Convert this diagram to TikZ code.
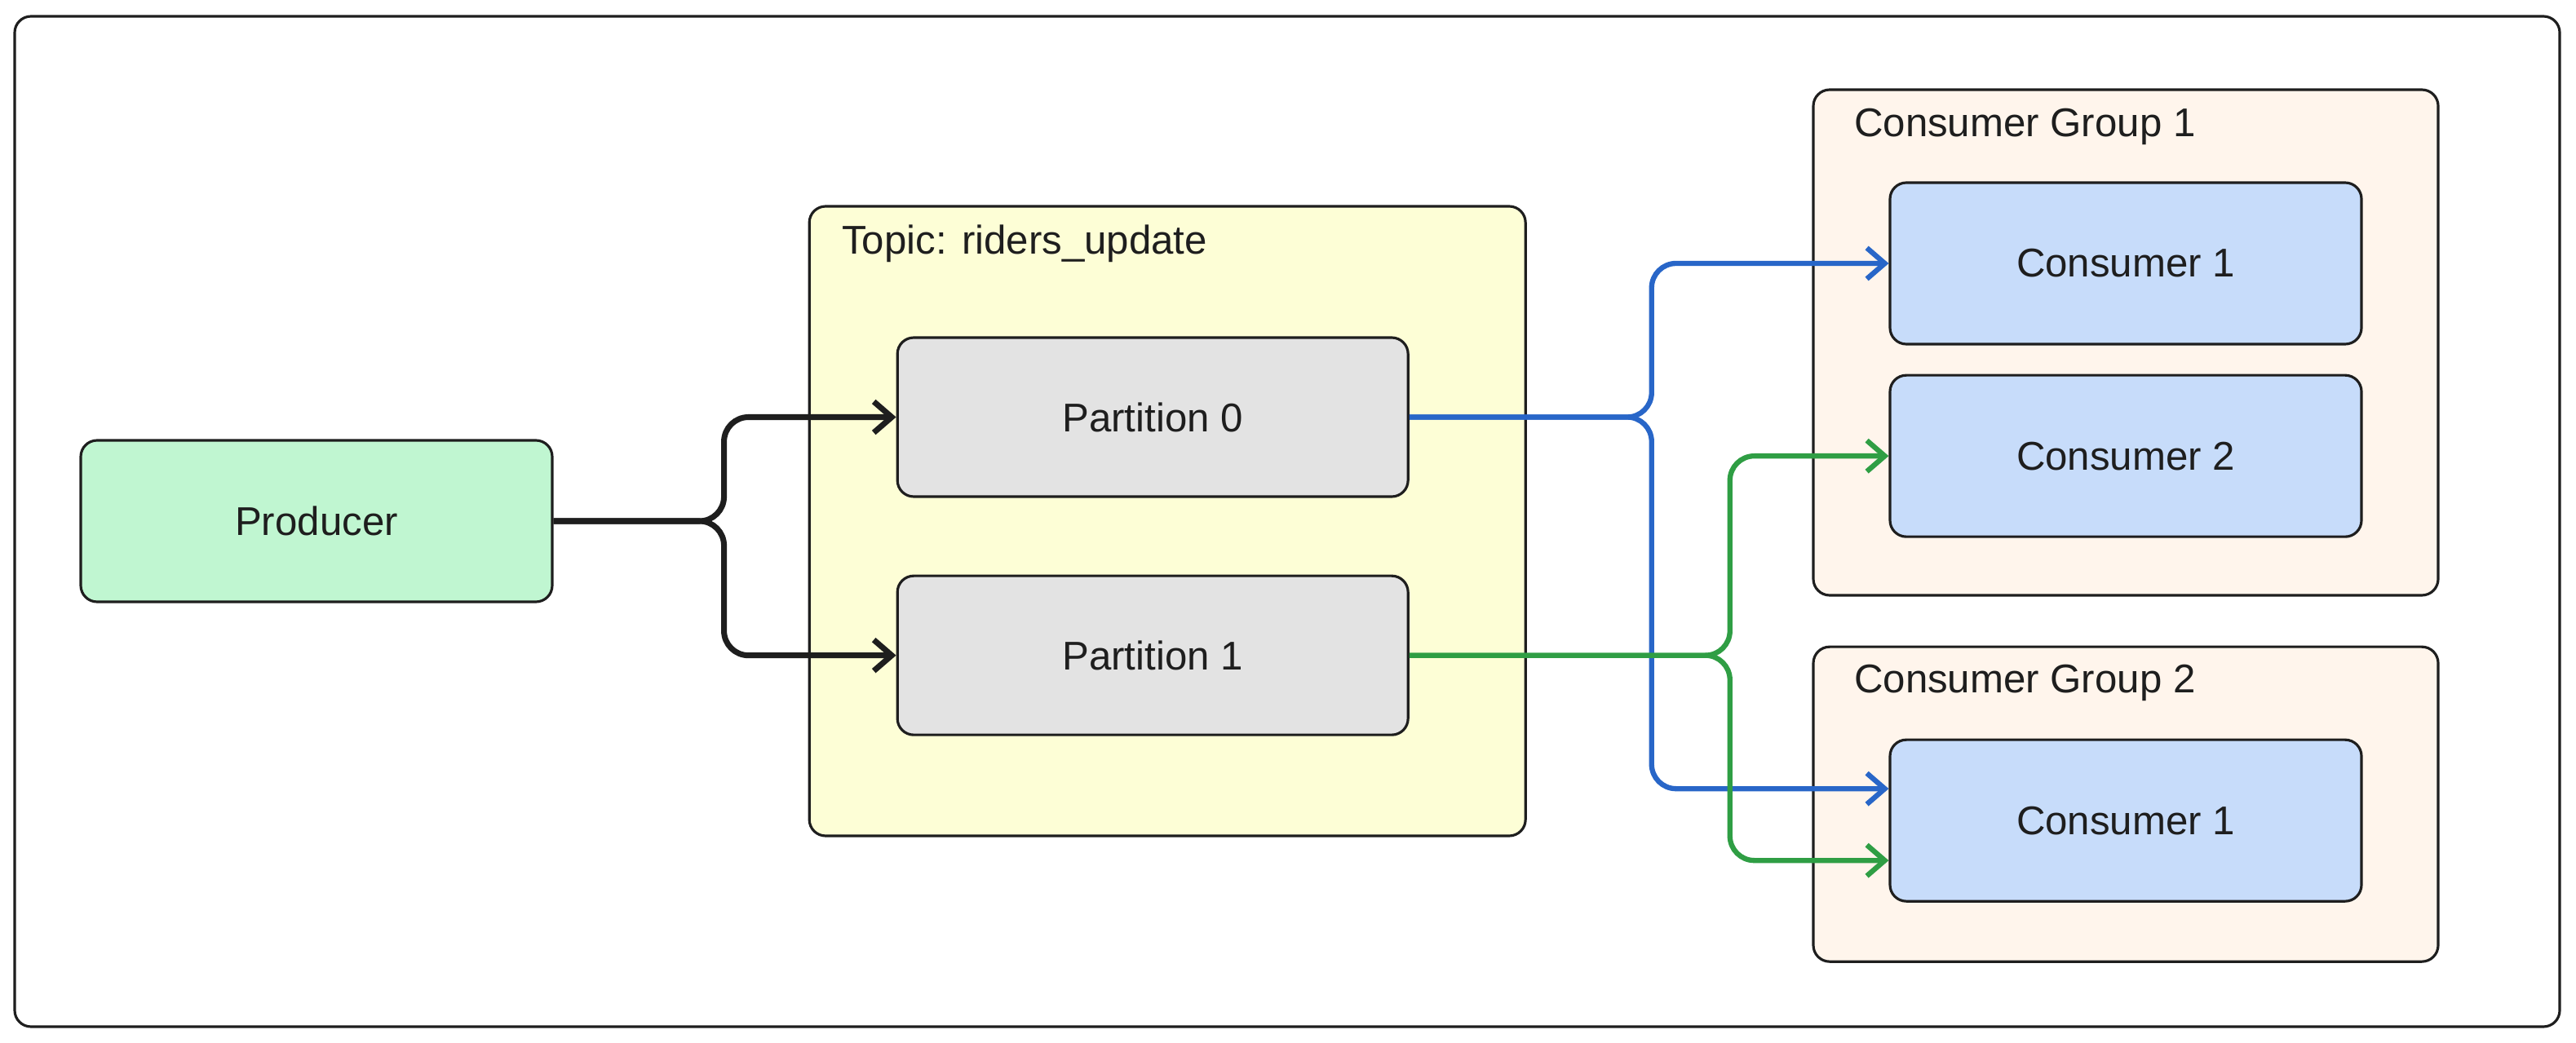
\documentclass[tikz,border=0pt]{standalone}
\usepackage{fontspec}
\setmainfont{Liberation Sans}
\usetikzlibrary{positioning,arrows.meta,calc}
\definecolor{ink}{HTML}{1E1E1E}
\definecolor{prodfill}{HTML}{C0F6D1}
\definecolor{topicfill}{HTML}{FDFED6}
\definecolor{partfill}{HTML}{E3E3E3}
\definecolor{grpfill}{HTML}{FFF5EC}
\definecolor{consfill}{HTML}{C7DCFA}
\definecolor{blueline}{HTML}{2866C8}
\definecolor{greenline}{HTML}{2F9E44}
\newcommand\lblfont{\fontsize{14}{17}\selectfont}
\tikzstyle{box}=[rectangle, rounded corners=2mm, draw=ink, line width=0.9pt,
 text=ink, font=\lblfont, inner sep=0pt, minimum width=5.78cm, minimum height=1.98cm]
\tikzstyle{prodbox}=[box, fill=prodfill]
\tikzstyle{consbox}=[box, fill=consfill]
\tikzstyle{partbox}=[box, fill=partfill, minimum width=6.26cm, minimum height=1.95cm]
\tikzstyle{topicbox}=[box, fill=topicfill, minimum width=8.78cm, minimum height=7.72cm]
\tikzstyle{groupbox}=[box, fill=grpfill, minimum width=7.66cm, minimum height=6.20cm]
\tikzstyle{grouplbl}=[anchor=west, text=ink, font=\lblfont, inner sep=0pt]
\tikzstyle{pline}=[-{Straight Barb[length=2.2mm,width=3.8mm]}, line width=2pt, ink, rounded corners=3mm]
\tikzstyle{bline}=[pline, line width=1.8pt, blueline]
\tikzstyle{gline}=[pline, line width=1.8pt, greenline]

\begin{document}
\begin{tikzpicture}
\useasboundingbox (0,0) rectangle (31.58,12.78);

	\node (frame) [rectangle, rounded corners=2mm, draw=ink, line width=0.9pt, fill=white,
	 minimum width=31.20cm, minimum height=12.39cm] at (15.78,6.385) {};

	\node (prod) [prodbox] at (3.88,6.39) {Producer};
	\node (topic) [topicbox, right=3.12cm of prod] {};
	\node (topiclbl) [grouplbl] at ($(topic.north west)+(0.41,-0.47)$) {Topic: riders\_update};
	\node (part0) [partbox, below=1.61cm of topic.north, xshift=-0.18cm] {Partition 0};
	\node (part1) [partbox, below=0.94cm of part0] {Partition 1};

%  consumer groups
	\node (cg1) [groupbox] at (26.06,8.58) {};
	\node (cg1lbl) [grouplbl] at ($(cg1.north west)+(0.51,-0.47)$) {Consumer Group 1};
	\node (cg2) [groupbox, minimum height=3.86cm, below=0.60cm of cg1] {};
	\node (cg2lbl) [grouplbl] at ($(cg2.north west)+(0.51,-0.46)$) {Consumer Group 2};

	\node (c11) [consbox, below=1.14cm of cg1.north] {Consumer 1};
	\node (c12) [consbox, below=0.35cm of c11] {Consumer 2};
	\node (c21) [consbox, below=1.14cm of cg2.north] {Consumer 1};

   \draw[pline] (prod.east) -- ++(2.09,0) |- (part0.west);
   \draw[pline] (prod.east) -- ++(2.09,0) |- (part1.west);

   \draw[bline] (part0.east) -- ++(2.97,0) |- (c11.west);
   \draw[bline] (part0.east) -- ++(2.97,0) |- ($(c21.west)+(0,0.39)$);

   \draw[gline] (part1.east) -- ++(3.93,0) |- (c12.west);
   \draw[gline] (part1.east) -- ++(3.93,0) |- ($(c21.west)+(0,-0.49)$);

\end{tikzpicture}
\end{document}
